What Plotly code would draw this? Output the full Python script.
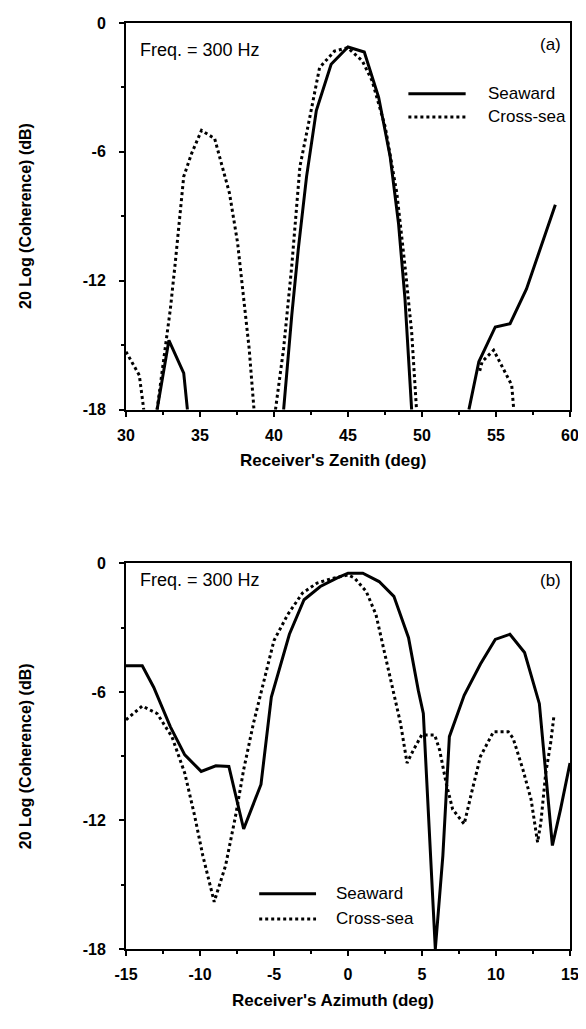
import plotly.graph_objects as go

# ---------------- data ----------------
# (a) Receiver's zenith (deg) vs 20 log coherence (dB); None = curve below -18 dB
zen_seaward_x = [32.1, 32.9, 33.9, 34.15, None,
                 40.65, 41.2, 41.64, 42.2, 42.86, 43.86, 45.0, 46.1, 47.07, 47.85, 48.41, 48.85, 49.3, None,
                 53.17, 53.84, 54.95, 55.95, 57.06, 58.05, 59.01]
zen_seaward_y = [-18, -14.77, -16.3, -18, None,
                 -18, -13.61, -10.54, -7.15, -4.08, -1.92, -1.12, -1.35, -3.46, -6.23, -9.31, -12.84, -18, None,
                 -18, -15.77, -14.15, -14.0, -12.38, -10.38, -8.46]

zen_cross_x = [30.0, 30.9, 31.2, None,
               32.1, 32.55, 33.0, 33.33, 33.66, 33.9, 34.43, 35.1, 35.99, 36.99, 37.54, 37.98, 38.32, 38.65, None,
               40.1, 40.65, 41.2, 41.75, 42.42, 43.08, 44.08, 44.97, 45.97, 46.63, 47.52, 48.3, 48.85, 49.3, 49.63, None,
               53.9, 54.06, 54.84, 55.5, 56.06, 56.2]
zen_cross_y = [-15.3, -16.4, -18, None,
               -18, -15.77, -13.3, -11.15, -8.69, -7.15, -6.08, -5.0, -5.38, -7.92, -10.23, -12.84, -15.15, -18, None,
               -18, -15.15, -11.31, -6.69, -4.38, -2.08, -1.31, -1.15, -1.77, -2.69, -4.85, -7.92, -11.31, -14.38, -18, None,
               -16.2, -15.77, -15.23, -16.07, -16.85, -18]

# (b) Receiver's azimuth (deg)
az_seaward_x = [-15, -13.9, -13.13, -12.0, -11.03, -9.92, -8.93, -8.05, -7.05, -5.88, -5.18, -3.96, -2.97,
                -1.87, -0.76, 0.0, 1.0, 2.1, 3.1, 4.09, 4.75, 5.09, 5.9, 6.41, 6.85, 7.85, 8.95, 9.95,
                10.94, 11.93, 12.93, 13.81, 14.36, 15.0]
az_seaward_y = [-4.78, -4.78, -5.78, -7.63, -8.94, -9.71, -9.45, -9.48, -12.4, -10.32, -6.24, -3.31, -1.7,
                -1.08, -0.69, -0.46, -0.46, -0.85, -1.54, -3.47, -5.93, -7.01, -18, -13.64, -8.09, -6.16, -4.7, -3.55,
                -3.31, -4.16, -6.55, -13.17, -11.48, -9.32]

az_cross_x = [-15, -13.9, -12.9, -11.9, -11.03, -10.36, -9.81, -9.04, -8.27, -7.6, -7.05, -6.39, -5.62, -5.0,
              -4.07, -3.08, -2.09, -0.98, 0.0, 0.45, 1.23, 1.89, 2.44, 3.0, 3.55, 3.99, 4.42, 4.98, 5.86,
              6.19, 6.63, 7.07, 7.85, 8.4, 8.95, 9.83, 10.83, 11.16, 11.82, 12.37, 12.81, 13.03, 13.36, 13.69, 13.92]
az_cross_y = [-7.3, -6.66, -7.01, -8.09, -9.79, -11.79, -13.64, -15.8, -14.1, -11.8, -9.63, -7.47, -5.32, -3.6,
              -2.39, -1.39, -0.92, -0.69, -0.54, -0.69, -1.31, -2.39, -4.08, -5.78, -7.47, -9.32, -8.71, -8.01, -8.01,
              -8.71, -10.25, -11.48, -12.17, -10.56, -9.01, -7.86, -7.86, -8.17, -9.63, -11.02, -13.02, -12.1, -9.79, -8.4, -7.09]

zen_ticks = [30, 35, 40, 45, 50, 55, 60]
az_ticks = [-15, -10, -5, 0, 5, 10, 15]
db_ticks = [-18, -12, -6, 0]

series_names = ["Seaward", "Cross-sea"]
freq_label = "Freq. = 300 Hz"
panel_labels = ["(a)", "(b)"]
x_titles = ["Receiver's Zenith (deg)", "Receiver's Azimuth (deg)"]
y_title = "20 Log (Coherence) (dB)"

# ---------------- figure ----------------
# the page body has an 8px margin, so the figure is 8px smaller than the window
OFF = 8
W, H = 586 - OFF, 1029 - OFF
ML, MR, MT, MB = 126 - OFF, 9, 15 - OFF, 80
FONT = "Liberation Sans, Arial, Helvetica, sans-serif"
solid = dict(color="black", width=3)
dotted = dict(color="black", width=3, dash="3px,3px")

fig = go.Figure()
fig.add_trace(go.Scatter(x=zen_seaward_x, y=zen_seaward_y, mode="lines", line=solid,
                         name=series_names[0], xaxis="x", yaxis="y", showlegend=False))
fig.add_trace(go.Scatter(x=zen_cross_x, y=zen_cross_y, mode="lines", line=dotted,
                         name=series_names[1], xaxis="x", yaxis="y", showlegend=False))
fig.add_trace(go.Scatter(x=az_seaward_x, y=az_seaward_y, mode="lines", line=solid,
                         name=series_names[0], xaxis="x2", yaxis="y2", showlegend=False))
fig.add_trace(go.Scatter(x=az_cross_x, y=az_cross_y, mode="lines", line=dotted,
                         name=series_names[1], xaxis="x2", yaxis="y2", showlegend=False))

tickfont = dict(family=FONT, size=16, color="black", weight="bold")
common_axis = dict(showline=True, linecolor="black", linewidth=2, mirror=True,
                   ticks="outside", ticklen=5, tickwidth=2, tickcolor="black",
                   showgrid=False, zeroline=False, tickfont=tickfont, ticklabeloverflow="allow",
                   minor=dict(ticks="outside", ticklen=3, tickwidth=1.5, tickcolor="black", showgrid=False))

def labels(vals):
    return [str(v) for v in vals]

plot_h = H - MT - MB
def py(pix):  # absolute window pixel -> paper y
    return (H - MB - (pix - OFF)) / plot_h

def px(pix):  # absolute window pixel -> paper x
    return (pix - OFF - ML) / (W - ML - MR)

top_dom = [py(405), 1.0]
bot_dom = [0.0, py(560)]

fig.update_layout(
    width=W, height=H, margin=dict(l=ML, r=MR, t=MT, b=MB),
    paper_bgcolor="white", plot_bgcolor="white", showlegend=False,
    xaxis=dict(common_axis, range=[30, 60], tickvals=zen_ticks, ticktext=labels(zen_ticks), anchor="y",
               minor=dict(common_axis["minor"], dtick=2.5), ticklabelstandoff=5),
    yaxis=dict(common_axis, range=[-18, 0], tickvals=db_ticks, ticktext=labels(db_ticks), domain=top_dom,
               anchor="x", minor=dict(common_axis["minor"], dtick=3), ticklabelstandoff=10),
    xaxis2=dict(common_axis, range=[-15, 15], tickvals=az_ticks, ticktext=labels(az_ticks), anchor="y2",
                minor=dict(common_axis["minor"], dtick=2.5), ticklabelstandoff=5),
    yaxis2=dict(common_axis, range=[-18, 0], tickvals=db_ticks, ticktext=labels(db_ticks), domain=bot_dom,
                anchor="x2", minor=dict(common_axis["minor"], dtick=3), ticklabelstandoff=10),
)

txt = dict(family=FONT, size=17, color="black")
ann = []
# panel annotations
for i, (xr, yr, fy) in enumerate([("x domain", "y domain", 0.93), ("x2 domain", "y2 domain", 0.956)]):
    ann.append(dict(text=freq_label, xref=xr, yref=yr, x=0.028, y=fy, xanchor="left", yanchor="middle",
                    showarrow=False, font=dict(txt, size=18)))
    ann.append(dict(text=panel_labels[i], xref=xr, yref=yr, x=0.985, y=(0.945 if i == 0 else 0.956),
                    xanchor="right", yanchor="middle", showarrow=False, font=txt))
# axis titles
bold = dict(family=FONT, size=17, color="black", weight="bold")
ann.append(dict(text=x_titles[0], xref="paper", yref="paper", x=px(336), y=py(456),
                xanchor="center", yanchor="middle", showarrow=False, font=bold))
ann.append(dict(text=x_titles[1], xref="paper", yref="paper", x=px(336), y=py(1001),
                xanchor="center", yanchor="middle", showarrow=False, font=bold))
ytf = dict(family=FONT, size=16, color="black", weight="bold")
for yc in (210, 755):
    ann.append(dict(text=y_title, xref="paper", yref="paper", x=px(24), y=py(yc),
                    xanchor="center", yanchor="middle", textangle=-90, showarrow=False, font=ytf))

# legends (drawn inside each panel)
shapes = []
legends = [("x domain", "y domain", 0.636, 0.765, 0.817, 0.757, 0.81),
           ("x2 domain", "y2 domain", 0.30, 0.428, 0.143, 0.078, 0.468)]
for xr, yr, x0, x1, y_s, y_c, xt in legends:
    shapes.append(dict(type="line", xref=xr, yref=yr, x0=x0, x1=x1, y0=y_s, y1=y_s, line=solid))
    shapes.append(dict(type="line", xref=xr, yref=yr, x0=x0, x1=x1, y0=y_c, y1=y_c, line=dotted))
    ann.append(dict(text=series_names[0], xref=xr, yref=yr, x=xt, y=y_s, xanchor="left", yanchor="middle",
                    showarrow=False, font=txt))
    ann.append(dict(text=series_names[1], xref=xr, yref=yr, x=xt, y=y_c, xanchor="left", yanchor="middle",
                    showarrow=False, font=txt))

fig.update_layout(annotations=ann, shapes=shapes)
fig.write_html("out.html")
